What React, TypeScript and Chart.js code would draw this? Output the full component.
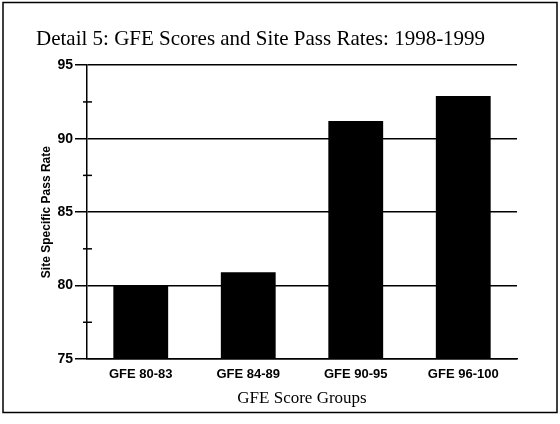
import React, { useEffect, useRef } from "react";
import { Chart, registerables } from "chart.js";

Chart.register(...registerables);

const titleText = "Detail 5: GFE Scores and Site Pass Rates: 1998-1999";
const categories = ["GFE 80-83", "GFE 84-89", "GFE 90-95", "GFE 96-100"];
const passRates = [80.0, 80.9, 91.2, 92.9];
const yMin = 75;
const yMax = 95;
const yStep = 5;
const minorTicks = [77.5, 82.5, 87.5, 92.5];
const xTitle = "GFE Score Groups";
const yTitle = "Site Specific Pass Rate";

const framePlugin = {
  id: "frame",
  beforeDraw(chart: any) {
    const ctx = chart.ctx;
    ctx.save();
    ctx.fillStyle = "#ffffff";
    ctx.fillRect(0, 0, chart.width, chart.height);
    ctx.strokeStyle = "#000000";
    ctx.lineWidth = 1.5;
    ctx.strokeRect(3, 2.5, 554, 410);
    ctx.restore();
  },
  afterDraw(chart: any) {
    const ctx = chart.ctx;
    const y = chart.scales.y;
    const x0 = chart.chartArea.left;
    ctx.save();
    ctx.strokeStyle = "#000000";
    ctx.lineWidth = 1.5;
    minorTicks.forEach((v) => {
      const py = y.getPixelForValue(v);
      ctx.beginPath();
      ctx.moveTo(x0 - 4, py);
      ctx.lineTo(x0 + 5, py);
      ctx.stroke();
    });
    ctx.restore();
  },
};

export default function App() {
  const ref = useRef<HTMLCanvasElement | null>(null);
  useEffect(() => {
    if (!ref.current) return;
    const chart = new Chart(ref.current, {
      type: "bar",
      data: {
        labels: categories,
        datasets: [
          {
            data: passRates,
            backgroundColor: "#000000",
            borderWidth: 0,
            barPercentage: 0.51,
            categoryPercentage: 1,
          },
        ],
      },
      options: {
        responsive: false,
        animation: false,
        layout: { padding: { left: 36, right: 43, top: 0, bottom: 0 } },
        plugins: {
          legend: { display: false },
          tooltip: { enabled: false },
          title: {
            display: true,
            text: titleText,
            align: "start",
            color: "#000000",
            font: { family: "Liberation Serif", size: 21, weight: "normal", lineHeight: 1.2 },
            padding: { top: 27, bottom: 13 },
          },
        },
        scales: {
          x: {
            afterFit(scale: any) {
              scale.height = 65;
            },
            grid: { display: false, drawTicks: false },
            border: { display: true, color: "#000000", width: 1.5 },
            ticks: {
              color: "#000000",
              padding: 8,
              font: { family: "Liberation Sans", size: 13, weight: "bold" },
            },
            title: {
              display: true,
              text: xTitle,
              color: "#000000",
              font: { family: "Liberation Serif", size: 17, weight: "normal", lineHeight: 1.2 },
              padding: { top: 0, bottom: 15 },
            },
          },
          y: {
            min: yMin,
            max: yMax,
            afterFit(scale: any) {
              scale.width = 51;
            },
            grid: {
              color: "#000000",
              lineWidth: 1.5,
              drawTicks: true,
              tickLength: 12,
            },
            border: { display: true, color: "#000000", width: 1.5 },
            ticks: {
              stepSize: yStep,
              color: "#000000",
              padding: 2,
              font: { family: "Liberation Sans", size: 14, weight: "bold" },
            },
            title: {
              display: true,
              text: yTitle,
              color: "#000000",
              font: { family: "Liberation Sans", size: 12, weight: "bold", lineHeight: 1.2 },
              padding: { top: 3, bottom: 0 },
            },
          },
        },
      },
      plugins: [framePlugin],
    });
    return () => chart.destroy();
  }, []);
  return (
    <div style={{ position: "absolute", left: 0, top: 0, width: 560, height: 424 }}>
      <canvas ref={ref} width={560} height={424} />
    </div>
  );
}
